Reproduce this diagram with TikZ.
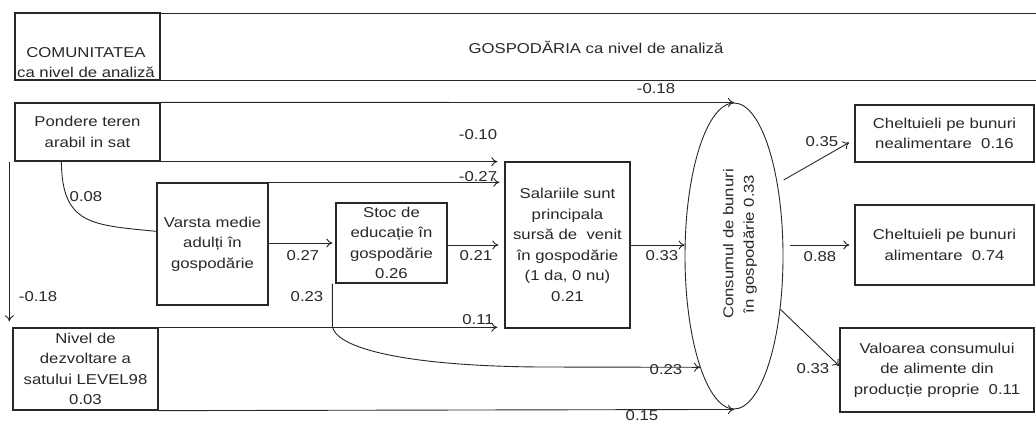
\documentclass[tikz,border=0pt]{standalone}
\usepackage{fontspec}
\setmainfont{Liberation Sans}[FakeStretch=1.17]
\usetikzlibrary{arrows.meta,shapes.geometric,calc}
\definecolor{ink}{RGB}{40,40,40}
\begin{document}
\begin{tikzpicture}[x=1pt,y=-1pt,
  every node/.style={font=\fontsize{14.3}{20.5}\selectfont, text=ink},
  box/.style={draw=ink, line width=1.3pt, rectangle, inner sep=0pt, align=center},
  lab/.style={inner sep=0pt},
  ln/.style={draw=ink, line width=0.9pt},
  arr/.style={ln, -{To[length=6pt,width=9pt]}}]
\useasboundingbox (0,0) rectangle (1036,425);
\fill[white] (0,0) rectangle (1036,425);

% header
\node[box, minimum width=145pt, minimum height=67pt] (hcom) at (87.5,46.5) {};
\node[align=center, inner sep=0pt] (hcomt) at (86,62.5) {COMUNITATEA\\ca nivel de analiză};
\node[box, minimum width=880pt, minimum height=67pt, anchor=north west] (hgos) at (160,13) {};
\node[inner sep=0pt] (hgost) at (596,47) {GOSPODĂRIA ca nivel de analiză};

% boxes
\node[box, minimum width=145pt, minimum height=58pt] (pond) at (87.5,132) {Pondere teren\\arabil in sat};
\node[box, minimum width=111pt, minimum height=122pt] (varsta) at (212.5,244) {Varsta medie\\adulți în\\gospodărie};
\node[box, minimum width=111pt, minimum height=80pt] (stoc) at (391.5,243) {Stoc de\\educație în\\gospodărie\\0.26};
\node[box, minimum width=125pt, minimum height=166pt] (sal) at (567.5,245) {Salariile sunt\\principala\\sursă de~ venit\\în gospodărie\\(1 da, 0 nu)\\0.21};
\node[box, minimum width=145pt, minimum height=82pt] (nivel) at (85.5,369) {Nivel de\\dezvoltare a\\satului LEVEL98\\0.03};
\node[draw=ink, line width=0.9pt, ellipse, inner sep=0pt, minimum width=98pt, minimum height=306pt] (ell) at (734,256) {};
\node[rotate=90, align=center, inner sep=0pt] (ellt) at (740,244) {Consumul de bunuri\\în gospodărie 0.33};
\node[box, minimum width=179pt, minimum height=57pt] (b1) at (944.5,133.5) {Cheltuieli pe bunuri\\nealimentare~~0.16};
\node[box, minimum width=179pt, minimum height=80pt] (b2) at (944.5,245) {Cheltuieli pe bunuri\\alimentare~~0.74};
\node[box, minimum width=194pt, minimum height=84pt] (b3) at (937,370) {Valoarea consumului\\de alimente din\\producție proprie~~0.11};

% connectors
\draw[arr] (pond.north east) -- (ell.north);
\draw[arr, shorten >=7pt] (pond.south east) -- (sal.west |- pond.south east);
\draw[arr, shorten >=5pt] (varsta.north east) -- (sal.west |- varsta.north east);
\coordinate (p8) at ($(pond.south west)+(47,0)$);
\draw[ln] (p8) .. controls (62,225) and (92,225) .. ($(varsta.north west)+(0,49)$);
\coordinate (pl) at ($(pond.south west)+(-5,0)$);
\draw[arr, shorten >=6pt] (pl) -- (pl |- nivel.north);
\draw[arr, shorten >=3pt] (varsta.east |- stoc.west) -- (stoc.west);
\draw[arr, shorten >=6pt] (stoc.east |- sal.west) -- (sal.west);
\draw[arr] (sal.east) -- (sal.east -| ell.west);
\draw[arr, shorten >=7pt] (nivel.north east) -- (sal.west |- nivel.north east);
\coordinate (s23) at ($(stoc.south west)+(-3,0)$);
\draw[arr] (s23) -- ++(0,42) .. controls (334,347) and (400,366) .. (540,367) -- (ell.253.6);
\draw[arr] (nivel.south east) -- (ell.south);
\draw[arr, shorten <=7pt, shorten >=6pt] (ell.59) -- ([yshift=-6pt]b1.west);
\coordinate (e2) at ($(ell.east)+(7,0)$);
\draw[arr, shorten >=5pt] (e2 |- b2.west) -- (b2.west);
\draw[arr] (ell.-49) -- ([yshift=4pt]b3.west);

% labels
\node[lab] (l1) at (656,89) {-0.18};
\node[lab] (l2) at (478,135) {-0.10};
\node[lab] (l3) at (478,177) {-0.27};
\node[lab] (l4) at (86,197) {0.08};
\node[lab] (l5) at (38,297) {-0.18};
\node[lab] (l6) at (303,256) {0.27};
\node[lab] (l7) at (476,256) {0.21};
\node[lab] (l8) at (662,256) {0.33};
\node[lab] (l9) at (307,297) {0.23};
\node[lab] (l10) at (478,320) {0.11};
\node[lab] (l11) at (666,370) {0.23};
\node[lab] (l12) at (642,416) {0.15};
\node[lab] (l13) at (822,142) {0.35};
\node[lab] (l14) at (820,257) {0.88};
\node[lab] (l15) at (813,369) {0.33};
\end{tikzpicture}
\end{document}
